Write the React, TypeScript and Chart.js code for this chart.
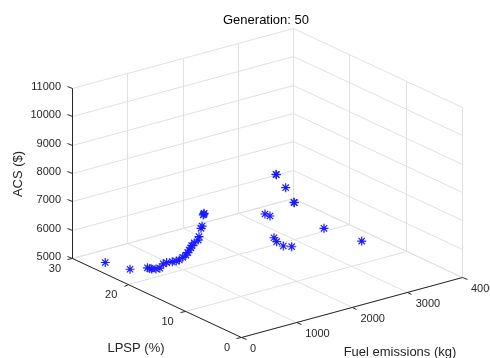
import React, { useEffect, useRef } from "react";
import { Chart, registerables } from "chart.js";

Chart.register(...registerables);

// ---- data ----
const fuelEmissions = [
  0, 0, 0, 0, 0, 0, 0, 0, 0, 0, 0, 0, 0, 0, 0, 0, 0, 0, 0, 0, 0, 0, 0, 0, 0, 0,
  633, 640, 809, 959, 965, 434, 525, 597, 646, 766, 918, 1502, 2185,
];
const lpsp = [
  24.1, 19.7, 16.6, 16.2, 15.85, 15.1, 14.4, 13.8, 13.2, 12.2, 11.5, 10.95, 10.35,
  9.8, 9.45, 9.2, 8.9, 8.75, 8.3, 7.6, 7.45, 7.1, 6.9, 6.7, 6.6, 6.55,
  0, 0, 0, 0, 0, 0, 0, 0, 0, 0, 0, 0, 0,
];
const acs = [
  5390, 5560, 5900, 5910, 5930, 6000, 6090, 6300, 6400, 6525, 6610, 6700, 6850,
  6980, 7100, 7215, 7320, 7410, 7550, 7715, 7850, 8175, 8275, 8685, 8720, 8755,
  10407, 10390, 9842, 9245, 9230, 9111, 8992, 8187, 8021, 7806, 7700, 8042, 7230,
];

const fuelTicks = [0, 1000, 2000, 3000, 4000];
const lpspTicks = [0, 10, 20, 30];
const acsTicks = [5000, 6000, 7000, 8000, 9000, 10000, 11000];

const titleText = "Generation: 50";
const fuelLabel = "Fuel emissions (kg)";
const lpspLabel = "LPSP (%)";
const acsLabel = "ACS ($)";

// ---- view (projection of the 3D box onto the canvas) ----
const W = 490;
const H = 358;
const FUEL_MIN = 0, FUEL_MAX = 4000;
const LPSP_MIN = 0, LPSP_MAX = 30;
const ACS_MIN = 5000, ACS_MAX = 11000;
const ORIGIN = { x: 241, y: 337 };
const FUEL_VEC = { x: 221, y: -60 };
const LPSP_VEC = { x: -169, y: -79 };
const ACS_VEC = { x: 0, y: -170 };

function project(f: number, l: number, z: number) {
  const fn = (f - FUEL_MIN) / (FUEL_MAX - FUEL_MIN);
  const ln = (l - LPSP_MIN) / (LPSP_MAX - LPSP_MIN);
  const zn = (z - ACS_MIN) / (ACS_MAX - ACS_MIN);
  return {
    x: ORIGIN.x + fn * FUEL_VEC.x + ln * LPSP_VEC.x + zn * ACS_VEC.x,
    y: ORIGIN.y + fn * FUEL_VEC.y + ln * LPSP_VEC.y + zn * ACS_VEC.y,
  };
}

function unit(v: { x: number; y: number }, s: number) {
  const n = Math.hypot(v.x, v.y);
  return { x: (v.x / n) * s, y: (v.y / n) * s };
}

const FONT = "'Liberation Sans', Arial, Helvetica, sans-serif";

const box3dPlugin = {
  id: "box3d",
  beforeDatasetsDraw(chart: any) {
    const ctx = chart.ctx as CanvasRenderingContext2D;
    const xs = chart.scales.x;
    const ys = chart.scales.y;
    const P = (f: number, l: number, z: number) => {
      const p = project(f, l, z);
      return { x: xs.getPixelForValue(p.x), y: ys.getPixelForValue(p.y) };
    };
    const line = (a: any, b: any) => {
      ctx.beginPath();
      ctx.moveTo(Math.round(a.x) + 0.5, Math.round(a.y) + 0.5);
      ctx.lineTo(Math.round(b.x) + 0.5, Math.round(b.y) + 0.5);
      ctx.stroke();
    };
    ctx.save();
    // grid
    ctx.strokeStyle = "#e0e0e0";
    ctx.lineWidth = 1;
    for (const f of fuelTicks) line(P(f, LPSP_MAX, ACS_MIN), P(f, LPSP_MAX, ACS_MAX));
    for (const z of acsTicks) line(P(FUEL_MIN, LPSP_MAX, z), P(FUEL_MAX, LPSP_MAX, z));
    for (const l of lpspTicks) line(P(FUEL_MAX, l, ACS_MIN), P(FUEL_MAX, l, ACS_MAX));
    for (const z of acsTicks) line(P(FUEL_MAX, LPSP_MIN, z), P(FUEL_MAX, LPSP_MAX, z));
    for (const f of fuelTicks) line(P(f, LPSP_MIN, ACS_MIN), P(f, LPSP_MAX, ACS_MIN));
    for (const l of lpspTicks) line(P(FUEL_MIN, l, ACS_MIN), P(FUEL_MAX, l, ACS_MIN));

    // axes
    ctx.strokeStyle = "#262626";
    line(P(FUEL_MIN, LPSP_MAX, ACS_MIN), P(FUEL_MIN, LPSP_MAX, ACS_MAX));
    line(P(FUEL_MIN, LPSP_MIN, ACS_MIN), P(FUEL_MIN, LPSP_MAX, ACS_MIN));
    line(P(FUEL_MIN, LPSP_MIN, ACS_MIN), P(FUEL_MAX, LPSP_MIN, ACS_MIN));

    const tz = unit(LPSP_VEC, 5);
    const tl = unit({ x: -FUEL_VEC.x, y: -FUEL_VEC.y }, 5);
    const tf = unit({ x: -LPSP_VEC.x, y: -LPSP_VEC.y }, 5);

    ctx.fillStyle = "#262626";
    ctx.font = `11px ${FONT}`;

    // ACS ticks + labels
    ctx.textAlign = "right";
    ctx.textBaseline = "middle";
    for (const z of acsTicks) {
      const p = P(FUEL_MIN, LPSP_MAX, z);
      line(p, { x: p.x + tz.x, y: p.y + tz.y });
      ctx.fillText(String(z), p.x - 11, p.y - 1);
    }
    // LPSP ticks + labels
    for (const l of lpspTicks) {
      const p = P(FUEL_MIN, l, ACS_MIN);
      line(p, { x: p.x + tl.x, y: p.y + tl.y });
      ctx.fillText(String(l), p.x - 11, p.y + 11);
    }
    // Fuel ticks + labels
    ctx.textAlign = "left";
    for (const f of fuelTicks) {
      const p = P(f, LPSP_MIN, ACS_MIN);
      line(p, { x: p.x + tf.x, y: p.y + tf.y });
      ctx.fillText(String(f), p.x + 9, p.y + 12);
    }

    // axis labels
    ctx.font = `13px ${FONT}`;
    ctx.textAlign = "center";
    ctx.textBaseline = "middle";
    ctx.fillText(lpspLabel, 136, 348);
    ctx.fillText(fuelLabel, 400, 352);
    ctx.save();
    ctx.translate(18, 174);
    ctx.rotate(-Math.PI / 2);
    ctx.fillText(acsLabel, 0, 0);
    ctx.restore();

    // title
    ctx.fillStyle = "#000000";
    ctx.font = `13px ${FONT}`;
    ctx.fillText(titleText, 266, 20);
    ctx.restore();
  },
};

export default function App() {
  const ref = useRef<HTMLCanvasElement | null>(null);
  useEffect(() => {
    if (!ref.current) return;
    const points = fuelEmissions.map((f, i) => project(f, lpsp[i], acs[i]));
    const chart = new Chart(ref.current, {
      type: "scatter",
      data: {
        datasets: [
          {
            data: points,
            pointStyle: "star",
            pointRadius: 4.5,
            pointBorderWidth: 1.2,
            pointBorderColor: "#1a1aff",
            pointBackgroundColor: "#1a1aff",
            clip: false as any,
          },
        ],
      },
      options: {
        responsive: false,
        animation: false,
        devicePixelRatio: 1,
        layout: { padding: 0, autoPadding: false },
        scales: {
          x: { type: "linear", display: false, min: 0, max: W },
          y: { type: "linear", display: false, min: 0, max: H, reverse: true },
        },
        plugins: {
          legend: { display: false },
          tooltip: { enabled: false },
          title: { display: false },
        },
      },
      plugins: [box3dPlugin],
    });
    return () => chart.destroy();
  }, []);
  return (
    <div style={{ position: "fixed", left: 0, top: 0, width: W, height: H, background: "#ffffff" }}>
      <canvas ref={ref} width={W} height={H} style={{ width: W, height: H, display: "block" }} />
    </div>
  );
}
